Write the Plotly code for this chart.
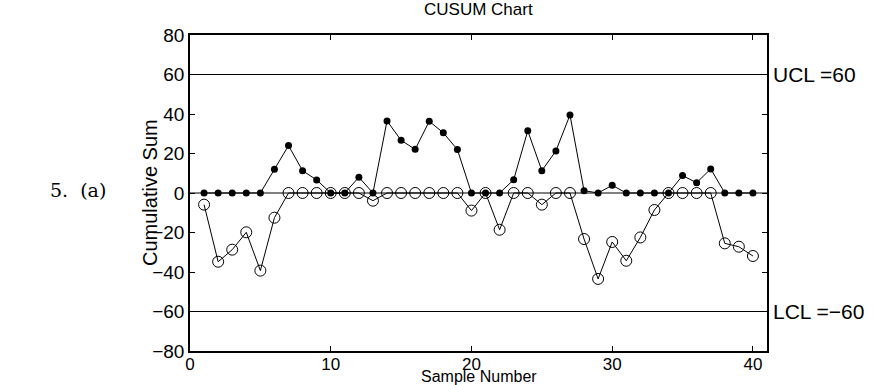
import plotly.graph_objects as go

samples = list(range(1, 41))
c_plus = [0, 0, 0, 0, 0, 12, 24, 11.3, 6.6, 0,
          0, 8, 0, 36.5, 26.7, 22.1, 36.3, 30.5, 22, 0,
          0, 0, 6.7, 31.5, 11.3, 21.3, 39.5, 1.2, 0, 3.9,
          0, 0, 0, 0, 8.8, 5.2, 12.2, 0, 0, 0]
c_minus = [-5.9, -34.8, -28.7, -19.9, -39.3, -12.5, 0, 0, 0, 0,
           0, 0, -3.9, 0, 0, 0, 0, 0, 0, -8.9,
           0, -18.6, 0, 0, -5.9, 0, 0, -23.3, -43.5, -24.8,
           -34.3, -22.5, -8.6, 0, 0, 0, 0, -25.5, -27.2, -31.9]
ucl = 60
lcl = -60
center = 0
x_range = [0, 41]
y_range = [-80, 80]
x_ticks = [0, 10, 20, 30, 40]
y_ticks = [-80, -60, -40, -20, 0, 20, 40, 60, 80]

SANS = "Liberation Sans, Arial, Helvetica"
SERIF = "DejaVu Serif, Liberation Serif"

fig = go.Figure()
for lvl in [ucl, center, lcl]:
    fig.add_trace(go.Scatter(x=x_range, y=[lvl, lvl], mode="lines",
                             line=dict(color="black", width=1),
                             hoverinfo="skip", showlegend=False))
fig.add_trace(go.Scatter(x=samples, y=c_minus, mode="lines+markers",
                         line=dict(color="black", width=1),
                         marker=dict(symbol="circle-open", size=11, color="black",
                                     line=dict(width=1, color="black")),
                         showlegend=False))
fig.add_trace(go.Scatter(x=samples, y=c_plus, mode="lines+markers",
                         line=dict(color="black", width=1),
                         marker=dict(symbol="circle", size=7, color="black"),
                         showlegend=False))

axis_common = dict(showline=True, linecolor="black", linewidth=1.5, mirror="ticks",
                   ticks="inside", ticklen=5, tickcolor="black", showgrid=False,
                   zeroline=False, automargin=False)

fig.update_layout(
    width=873, height=385,
    margin=dict(l=190, r=106, t=35, b=34),
    plot_bgcolor="white", paper_bgcolor="white",
    xaxis=dict(range=x_range, tickvals=x_ticks, ticklabelstandoff=-3,
               tickfont=dict(family=SANS, size=17, color="black"), **axis_common),
    yaxis=dict(range=y_range, tickvals=y_ticks, tickformat="d",
               tickfont=dict(family=SANS, size=19, color="black"), **axis_common),
)

fig.add_annotation(text="CUSUM Chart", xref="paper", yref="paper", x=0.5, y=1,
                   xanchor="center", yanchor="bottom", yshift=14, showarrow=False,
                   font=dict(family=SANS, size=17, color="black"))
fig.add_annotation(text="Sample Number", xref="paper", yref="paper", x=0.5, y=0,
                   xanchor="center", yanchor="bottom", yshift=-36, showarrow=False,
                   font=dict(family=SANS, size=16, color="black"))
fig.add_annotation(text="Cumulative Sum", xref="paper", yref="paper", x=0, y=0.5,
                   xanchor="center", yanchor="middle", xshift=-40, textangle=-90,
                   showarrow=False, font=dict(family=SANS, size=20, color="black"))
fig.add_annotation(text="UCL =60", xref="paper", yref="y", x=1, y=ucl, xanchor="left",
                   xshift=4, showarrow=False,
                   font=dict(family=SANS, size=21, color="black"))
fig.add_annotation(text="LCL =\u221260", xref="paper", yref="y", x=1, y=lcl, xanchor="left",
                   xshift=4, showarrow=False,
                   font=dict(family=SANS, size=21, color="black"))
fig.add_annotation(text="5.  (a)", xref="paper", yref="y", x=0, y=center, xanchor="left",
                   xshift=-142, yshift=3, showarrow=False,
                   font=dict(family=SERIF, size=19, color="black"))

fig.write_html("out.html", config={"displayModeBar": False},
               post_script="document.body.style.margin='0';")
